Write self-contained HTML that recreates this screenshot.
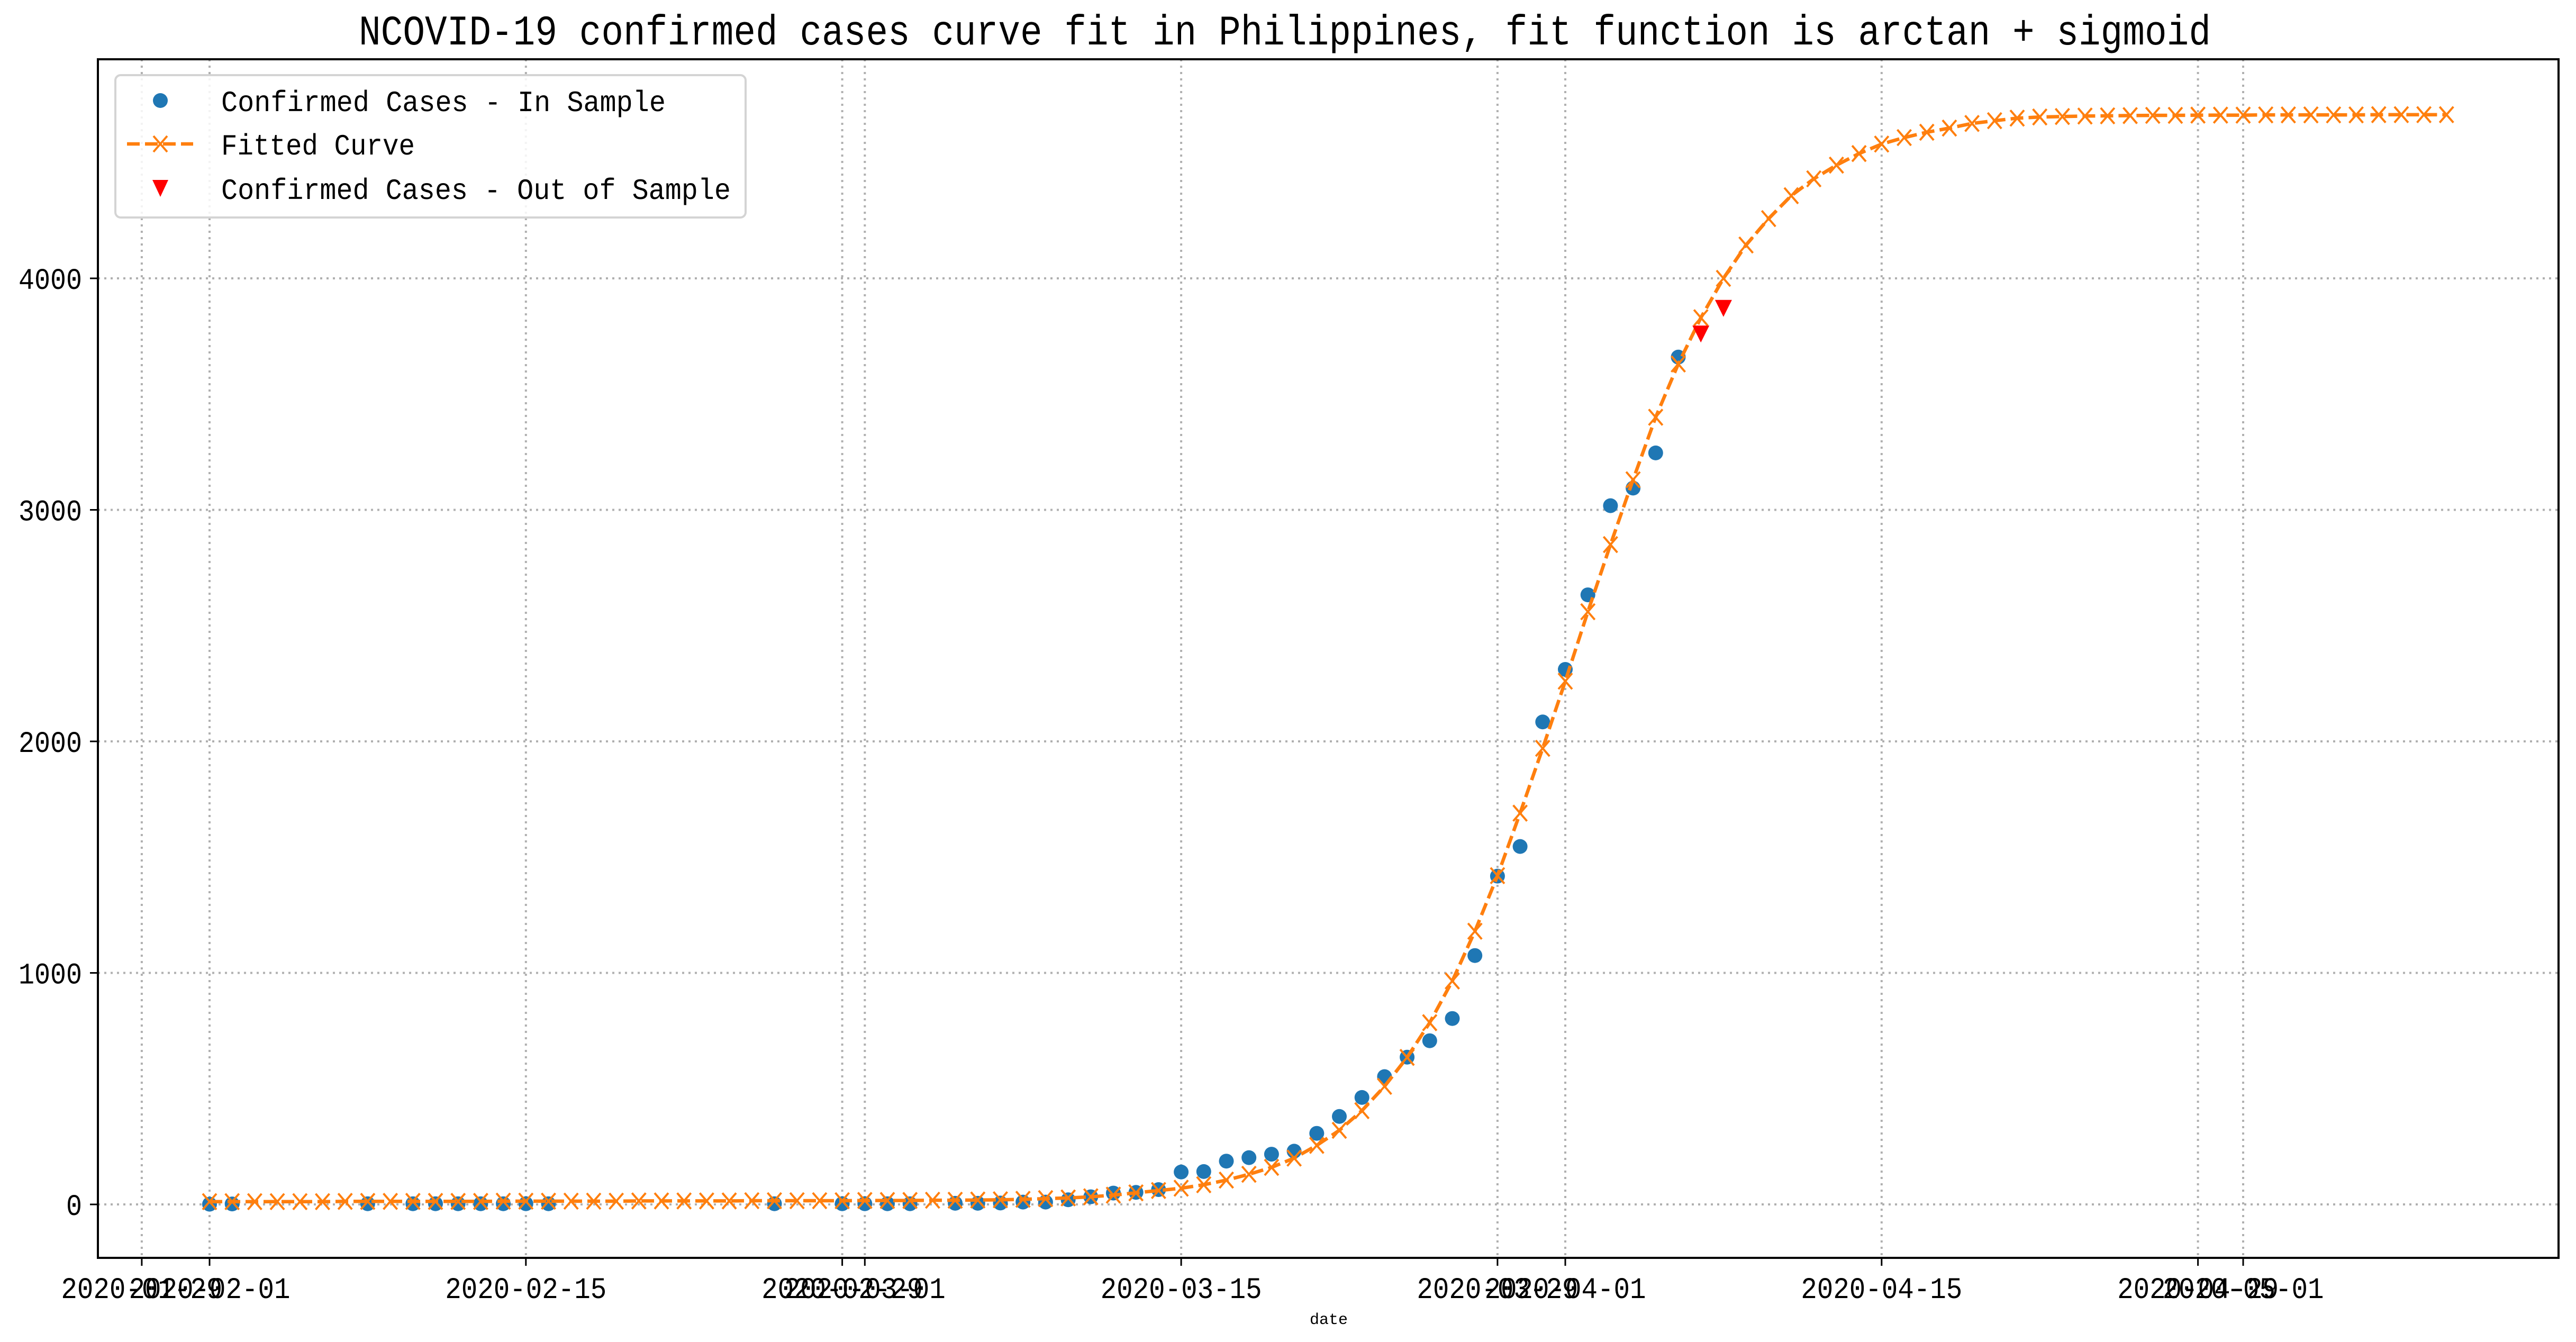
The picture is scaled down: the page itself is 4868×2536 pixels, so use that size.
<!DOCTYPE html>
<html><head><meta charset="utf-8">
<style>
html,body{margin:0;padding:0;background:#fff;}
svg{display:block;}
text{font-family:"Liberation Mono","Noto Sans CJK SC",monospace;fill:#000;}
</style></head>
<body>
<svg id="chart" width="4868" height="2536" viewBox="0 0 4868 2536" xmlns="http://www.w3.org/2000/svg">
<rect x="0" y="0" width="4868" height="2536" fill="#fff"/>
<text x="2428" y="84" font-size="80" text-anchor="middle" textLength="3500" lengthAdjust="spacingAndGlyphs">NCOVID-19 confirmed cases curve fit in Philippines, fit function is arctan + sigmoid</text>
<g id="grid"></g>
<g id="series"></g>
<rect x="185" y="112" width="4650" height="2265" fill="none" stroke="#000" stroke-width="4"/>
<g id="axes"></g>
<text x="2511" y="2502" font-size="30" text-anchor="middle">date</text>
<g>
  <rect x="218" y="142" width="1191" height="269" rx="10" fill="#fff" fill-opacity="0.85" stroke="#d4d4d4" stroke-width="4"/>
  <ellipse cx="303" cy="190" rx="14" ry="14" fill="#1f77b4"/>
  <text x="418" y="210" font-size="56" textLength="840" lengthAdjust="spacingAndGlyphs">Confirmed Cases - In Sample</text>
  <line x1="240" y1="272" x2="365" y2="272" stroke="#ff7f0e" stroke-width="6.5" stroke-dasharray="24,10"/>
  <path d="M290,257 L316,287 M316,257 L290,287" stroke="#ff7f0e" stroke-width="4"/>
  <text x="418" y="292" font-size="56" textLength="366" lengthAdjust="spacingAndGlyphs">Fitted Curve</text>
  <path d="M288,340 L318,340 L303,372 Z" fill="#ff0000"/>
  <text x="418" y="376" font-size="56" textLength="963" lengthAdjust="spacingAndGlyphs">Confirmed Cases - Out of Sample</text>
</g>
</svg>
<script>
// day offsets from 2020-02-01
const inDays = [0,1,7,9,10,11,12,13,14,15,25,28,29,30,31,33,34,35,36,37,38,39,40,41,42,43,44,45,46,47,48,49,50,51,52,53,54,55,56,57,58,59,60,61,62,63,64,65];
const inVals = [1,2,3,3,3,3,3,3,3,3,3,3,3,3,3,5,5,6,10,10,20,33,49,52,64,140,142,187,202,217,230,307,380,462,552,636,707,803,1075,1418,1546,2084,2311,2633,3018,3094,3246,3660];
const outDays = [66,67];
const outVals = [3764,3875];
const fitVals = [12,12,12,12,12,12,13,13,13,13,
  13,13,13,14,14,14,14,14,14,15,
  15,15,15,15,16,16,16,16,16,17,
  17,17,18,18,19,20,22,25,28,33,
  40,50,60,70,85,105,130,160,200,255,
  320,405,510,635,785,965,1180,1420,1690,1970,
  2260,2560,2850,3130,3400,3630,3830,4000,4144,4258,
  4357,4430,4489,4539,4580,4608,4631,4649,4669,4681,
  4692,4697,4699,4701,4702,4703,4704,4704,4705,4705,
  4705,4706,4706,4706,4706,4706,4707,4707,4707,4707];
const yTicks = [0,1000,2000,3000,4000];
const xTickDays = [-3,0,14,28,29,43,57,60,74,88,90];
const xTickLabels = ["2020-01-29","2020-02-01","2020-02-15","2020-02-29","2020-03-01","2020-03-15","2020-03-29","2020-04-01","2020-04-15","2020-04-29","2020-05-01"];
</script>
<script>
const NS="http://www.w3.org/2000/svg";
const X0=396, DX=42.7, Y0=2276, DY=0.4375;
function sx(d){return X0+d*DX;}
function sy(v){return Y0-v*DY;}
function mk(tag,attrs,parent){const e=document.createElementNS(NS,tag);for(const k in attrs)e.setAttribute(k,attrs[k]);parent.appendChild(e);return e;}
const grid=document.getElementById('grid'),axes=document.getElementById('axes'),series=document.getElementById('series');
xTickDays.forEach((d,i)=>{
  const x=sx(d);
  const g=mk('line',{x1:x,y1:112,x2:x,y2:2377,stroke:'#b0b0b0','stroke-width':4,'stroke-dasharray':'4,8'},grid);
  
  
  const t=mk('line',{x1:x,y1:2377,x2:x,y2:2392,stroke:'#000','stroke-width':3},axes);
  
  
  const l=mk('text',{x:x,y:2453,'font-size':57,'text-anchor':'middle',textLength:305,lengthAdjust:'spacingAndGlyphs'},axes);
  l.textContent=xTickLabels[i];
  
  
});
yTicks.forEach(v=>{
  const y=sy(v);
  const g=mk('line',{x1:185,y1:y,x2:4835,y2:y,stroke:'#b0b0b0','stroke-width':4,'stroke-dasharray':'4,8'},grid);
  
  
  const t=mk('line',{x1:170,y1:y,x2:185,y2:y,stroke:'#000','stroke-width':3},axes);
  
  
  const s=String(v);
  const l=mk('text',{x:155,y:y+20,'font-size':57,'text-anchor':'end',textLength:s.length*30,lengthAdjust:'spacingAndGlyphs'},axes);
  l.textContent=s;
  
  
});
inDays.forEach((d,i)=>{
  const c=mk('ellipse',{cx:sx(d),cy:sy(inVals[i]),rx:14,ry:14,fill:'#1f77b4'},series);
  
  
});
const pts=fitVals.map((v,i)=>sx(i).toFixed(1)+','+sy(v).toFixed(1)).join(' ');
const pl=mk('polyline',{points:pts,fill:'none',stroke:'#ff7f0e','stroke-width':6.5,'stroke-dasharray':'24,10'},series);


fitVals.forEach((v,i)=>{
  const x=sx(i),y=sy(v);
  const p=mk('path',{d:`M${x-13},${y-15} L${x+13},${y+15} M${x+13},${y-15} L${x-13},${y+15}`,stroke:'#ff7f0e','stroke-width':4},series);
  
  
});
outDays.forEach((d,i)=>{
  const x=sx(d),y=sy(outVals[i]);
  const p=mk('path',{d:`M${x-16},${y-14} L${x+16},${y-14} L${x},${y+18} Z`,fill:'#ff0000'},series);
  
  
});
</script>
</body></html>
